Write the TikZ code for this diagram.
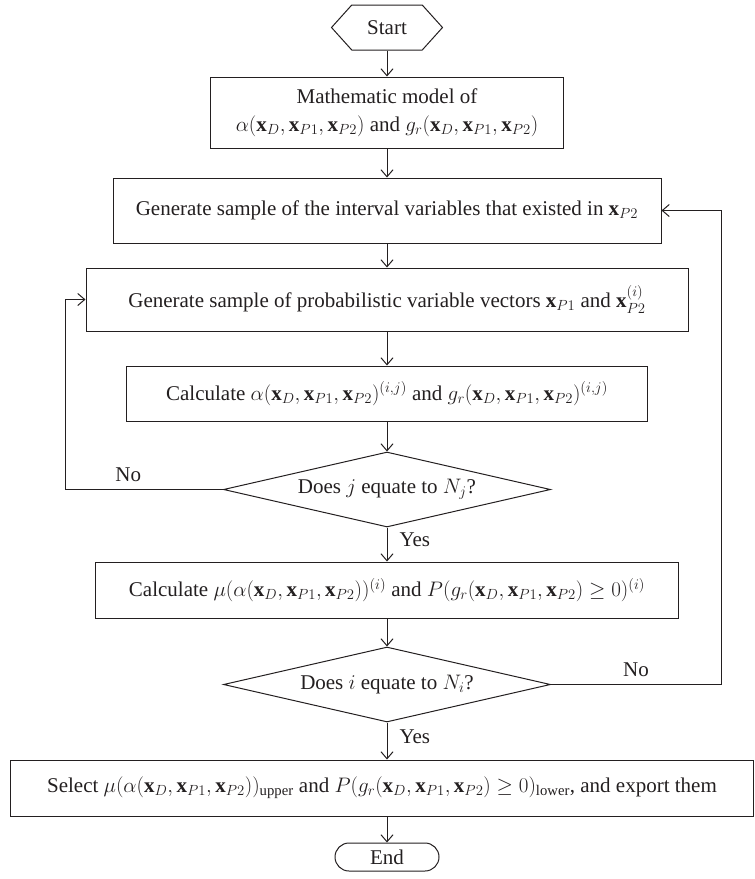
\RequirePackage{fix-cm}
\documentclass[tikz,border=0pt]{standalone}
\usepackage{amsmath}
\usepackage{fontspec}
\setmainfont{Liberation Serif}
\usetikzlibrary{arrows.meta, positioning, shapes.geometric, shapes.symbols}
\definecolor{inkgray}{HTML}{231F20}
\newcommand{\xset}{(\mathbf{x}_D, \mathbf{x}_{P1}, \mathbf{x}_{P2})}
\tikzset{
  pbox/.style={rectangle, draw=inkgray, line width=1pt, minimum width=#1,
               minimum height=56pt, inner sep=2pt, align=center},
  pbox/.default=520pt,
  dbox/.style={diamond, draw=inkgray, line width=1pt, minimum width=327pt,
               minimum height=75pt, inner sep=0pt, aspect=4.36},
  hexbox/.style={signal, signal to=west and east, signal pointer angle=96,
                 draw=inkgray, line width=1pt, minimum width=111pt,
                 minimum height=45pt, inner sep=0pt},
  termbox/.style={rectangle, rounded corners=14pt, draw=inkgray, line width=1pt,
                  minimum width=104pt, minimum height=28pt, inner sep=0pt},
  lbl/.style={inner sep=7pt},
  arr/.style={-{Straight Barb[length=7pt, width=12pt]}, line width=1pt, draw=inkgray},
}

\begin{document}
\begin{tikzpicture}[x=1pt, y=-1pt, every node/.style={font=\fontsize{21}{28}\selectfont, text=inkgray}]
  \useasboundingbox (0,0) rectangle (755,879);
  % main chain
  \node[hexbox] (start) at (387,27.5) {Start};
  \node[pbox=353pt, minimum height=71pt, below=26pt of start] (model)
    {Mathematic model of\\ $\alpha\xset$ and $g_r\xset$};
  \node[pbox=548pt, minimum height=65pt, below=29pt of model] (intsample)
    {Generate sample of the interval variables that existed in $\mathbf{x}_{P2}$};
  \node[pbox=602pt, minimum height=63pt, below=24pt of intsample] (probsample)
    {Generate sample of probabilistic variable vectors $\mathbf{x}_{P1}$ and $\mathbf{x}_{P2}^{(i)}$};
  \node[pbox=521pt, minimum height=55pt, below=34pt of probsample] (calcij)
    {Calculate $\alpha\xset^{(i,j)}$ and $g_r\xset^{(i,j)}$};
  \node[dbox, below=30pt of calcij] (checkj) {Does $j$ equate to $N_j$?};
  \node[pbox=583pt, below=34pt of checkj] (calci)
    {Calculate $\mu(\alpha\xset)^{(i)}$ and $P(g_r\xset \geq 0)^{(i)}$};
  \node[dbox, below=28pt of calci] (checki) {Does $i$ equate to $N_i$?};
  \node[pbox=743pt, below=37pt of checki, xshift=-5pt] (select)
    {Select $\mu(\alpha\xset)_{\text{upper}}$ and $P(g_r\xset \geq 0)_{\text{lower}}$, and export them};
  \node[termbox, below=27pt of checki.south, yshift=-93pt] (stop) {End};

  \draw[arr] (start) -- (model);
  \draw[arr] (model) -- (intsample);
  \draw[arr] (intsample) -- (probsample);
  \draw[arr] (probsample) -- (calcij);
  \draw[arr] (calcij) -- (checkj);
  \draw[arr] (checkj) -- node[lbl, right, pos=0.35, inner sep=12pt] {Yes} (calci);
  \draw[arr] (calci) -- (checki);
  \draw[arr] (checki) -- node[lbl, right, pos=0.38, inner sep=12pt] {Yes} (checki.south |- select.north);
  \draw[arr] (checki.south |- select.south) -- (stop);
  % loops
  \draw[arr] (checkj.west) -- node[lbl, above, pos=0.6] {No} ++(-158,0) |- (probsample.west);
  \draw[arr] (checki.east) -- node[lbl, above] {No} ++(170,0) |- (intsample.east);
\end{tikzpicture}
\end{document}
